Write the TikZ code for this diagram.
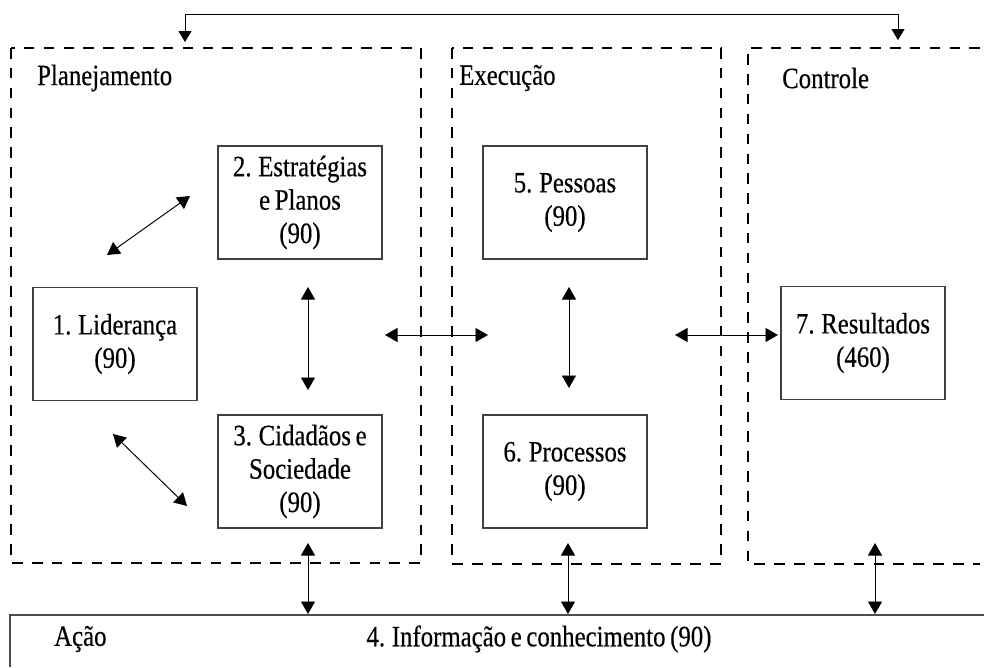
\documentclass[tikz,border=0pt]{standalone}
\usepackage{fontspec}
\setmainfont{Liberation Serif}[FakeStretch=0.84,FakeBold=0.4,WordSpace=0.75]
\usetikzlibrary{arrows.meta,positioning}

\begin{document}
\begin{tikzpicture}[x=0.02cm,y=-0.02cm,
    every node/.append style={font=\fontsize{16.8}{19}\selectfont},
    box/.style={draw=black!75, line width=0.6pt, minimum width=3.28cm,
                minimum height=2.26cm, align=center, inner sep=0pt},
    phase/.style={line width=1.65pt, dash pattern=on 6pt off 5.3pt},
    arr/.style={line width=0.5pt, -{Triangle[length=0.22cm,width=0.26cm]}},
    dbl/.style={line width=0.55pt,
                {Triangle[length=0.25cm,width=0.28cm]}-{Triangle[length=0.25cm,width=0.28cm]}}]
    \useasboundingbox (0,0) rectangle (984,667);
    % the three phases
    \begin{scope}[phase]
      \draw (11,48) rectangle (421,563);
      \draw (452,48) rectangle (721,564);
      \draw (980,48) -- (748,48) -- (748,564) -- (980,564);
    \end{scope}
    \node[anchor=west] (plan) at (31,78) {Planejamento};
    \node[anchor=west] (exec) at (453,78) {Execução};
    \node[anchor=west] (ctrl) at (776,78) {Controle};
    % criteria
    \node[box] (lid) at (115,344)   {1. Liderança\\(90)};
    \node[box] (est) at (300,202.5) {2. Estratégias\\e Planos\\(90)};
    \node[box] (cid) at (300,471.5) {3. Cidadãos e\\Sociedade\\(90)};
    \node[box] (pes) at (565,202.5) {5. Pessoas\\(90)};
    \node[box] (pro) at (565,471.5) {6. Processos\\(90)};
    \node[box] (res) at (863,343)   {7. Resultados\\(460)};
    % information bar
    \draw[draw=black!70, line width=0.6pt] (984,615) -- (10,615) -- (10,667);
    \node[anchor=west] (acao) at (48,639) {Ação};
    \node (info) at (539,639) {4. Informação e conhecimento (90)};
    % feedback on top
    \coordinate (fbl) at (185,14);
    \coordinate (fbr) at (898,14);
    \draw[arr] (fbr) -- (fbl) -- (185,42);
    \draw[arr] (fbl) -- (fbr) -- (898,40);
    % links
    \coordinate (d1a) at (107,255);  \coordinate (d1b) at (190,196);
    \coordinate (d2a) at (113,434);  \coordinate (d2b) at (187,506);
    \draw[dbl] (d1a) -- (d1b);
    \draw[dbl] (d2a) -- (d2b);
    \draw[dbl] (308,287) -- (308,390);
    \draw[dbl] (569,287) -- (569,388);
    \draw[dbl] (385,335) -- (488,335);
    \draw[dbl] (675,335) -- (778,335);
    \foreach \x in {308,568,875}
      \draw[dbl] (\x,543) -- (\x,614);
\end{tikzpicture}
\end{document}
